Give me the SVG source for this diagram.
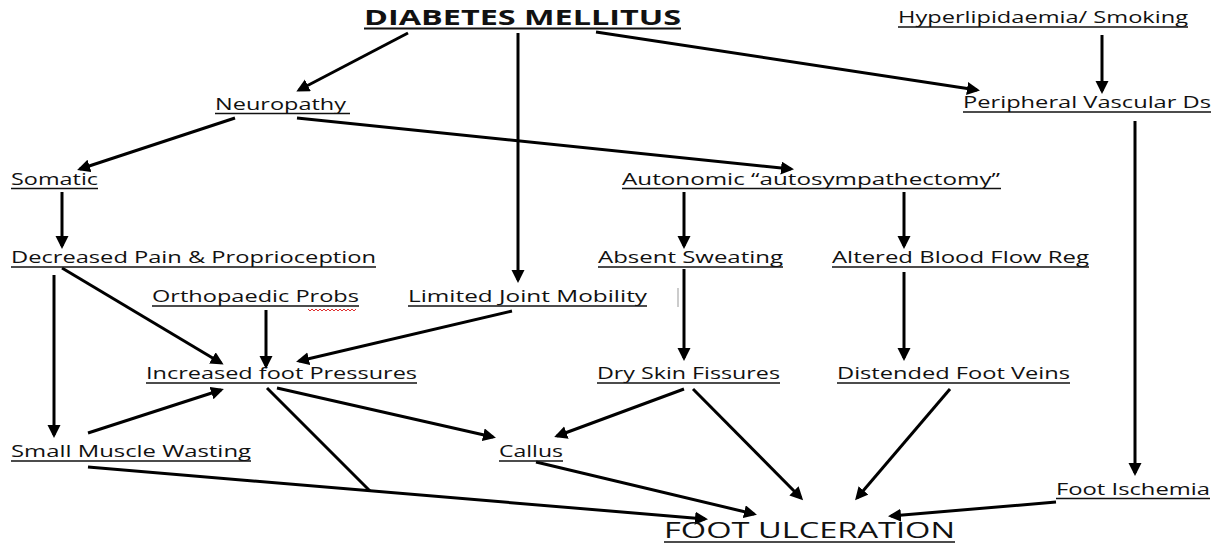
<svg xmlns="http://www.w3.org/2000/svg" width="1221" height="546" viewBox="0 0 1221 546">
<style>
.t{font-family:"Open Sans","Liberation Sans",Arial,sans-serif;font-size:16.5px;fill:#111}
.b{font-weight:bold;font-size:21px}
.big{font-size:21px}
.u{stroke:#111;stroke-width:1.3}
.c line{stroke:#000;stroke-width:3}
.c .a{marker-end:url(#ah)}
</style>
<defs>
<marker id="ah" markerUnits="userSpaceOnUse" markerWidth="16" markerHeight="14" refX="10" refY="6.5" orient="auto">
<path d="M0,0 L13,6.5 L0,13 z" fill="#000"/>
</marker>
</defs>
<rect width="1221" height="546" fill="#fff"/>
<g id="connectors" class="c">
<line class="a" x1="408" y1="33" x2="299" y2="90"/>
<line class="a" x1="518" y1="33" x2="518" y2="280"/>
<line class="a" x1="596" y1="32" x2="977" y2="90"/>
<line class="a" x1="1102" y1="35" x2="1102" y2="91"/>
<line class="a" x1="235" y1="118" x2="80" y2="169"/>
<line class="a" x1="297" y1="118" x2="791" y2="169"/>
<line class="a" x1="1135" y1="121" x2="1135" y2="473"/>
<line class="a" x1="62" y1="192" x2="62" y2="246"/>
<line class="a" x1="684" y1="192" x2="684" y2="246"/>
<line class="a" x1="904" y1="192" x2="904" y2="246"/>
<line class="a" x1="54" y1="275" x2="54" y2="435"/>
<line class="a" x1="62" y1="268" x2="221" y2="363"/>
<line class="a" x1="266" y1="310" x2="266" y2="366"/>
<line class="a" x1="512" y1="311" x2="299" y2="361"/>
<line class="a" x1="684" y1="269" x2="684" y2="358"/>
<line class="a" x1="904" y1="272" x2="904" y2="358"/>
<line class="a" x1="88" y1="433" x2="221" y2="390"/>
<line class="a" x1="277" y1="388" x2="493" y2="437"/>
<line class="a" x1="684" y1="389" x2="557" y2="436"/>
<line class="a" x1="693" y1="389" x2="801" y2="498"/>
<line class="a" x1="950" y1="389" x2="857" y2="498"/>
<line class="a" x1="88" y1="467" x2="705" y2="519"/>
<line x1="267" y1="388" x2="370" y2="491"/>
<line class="a" x1="536" y1="462" x2="754" y2="514"/>
<line class="a" x1="1056" y1="502" x2="891" y2="516"/>
<line x1="678" y1="288" x2="678" y2="307" style="stroke:#999;stroke-width:1"/>
</g>
<g id="diabetes"><text class="t b" x="364" y="25" textLength="317" lengthAdjust="spacingAndGlyphs">DIABETES MELLITUS</text><line class="u" x1="364" y1="28.5" x2="681" y2="28.5" style="stroke-width:2"/></g>
<g id="hyperlipidaemia"><text class="t" x="898" y="23" textLength="290" lengthAdjust="spacingAndGlyphs">Hyperlipidaemia/ Smoking</text><line class="u" x1="898" y1="27" x2="1188" y2="27"/></g>
<g id="neuropathy"><text class="t" x="215" y="110" textLength="131" lengthAdjust="spacingAndGlyphs">Neuropathy</text><line class="u" x1="215" y1="113.5" x2="350" y2="113.5"/></g>
<g id="pvd"><text class="t" x="963" y="108" textLength="248" lengthAdjust="spacingAndGlyphs">Peripheral Vascular Ds</text><line class="u" x1="963" y1="112" x2="1211" y2="112"/></g>
<g id="somatic"><text class="t" x="11" y="185" textLength="87" lengthAdjust="spacingAndGlyphs">Somatic</text><line class="u" x1="11" y1="188.5" x2="98" y2="188.5"/></g>
<g id="autonomic"><text class="t" x="622" y="185" textLength="378" lengthAdjust="spacingAndGlyphs">Autonomic “autosympathectomy”</text><line class="u" x1="622" y1="188.5" x2="1001" y2="188.5"/></g>
<g id="decreased"><text class="t" x="11" y="263" textLength="365" lengthAdjust="spacingAndGlyphs">Decreased Pain &amp; Proprioception</text><line class="u" x1="11" y1="267" x2="376" y2="267"/></g>
<g id="absent"><text class="t" x="598" y="263" textLength="185" lengthAdjust="spacingAndGlyphs">Absent Sweating</text><line class="u" x1="598" y1="267" x2="783" y2="267"/></g>
<g id="altered"><text class="t" x="832" y="263" textLength="257" lengthAdjust="spacingAndGlyphs">Altered Blood Flow Reg</text><line class="u" x1="832" y1="267" x2="1089" y2="267"/></g>
<g id="ortho"><text class="t" x="152" y="302" textLength="207" lengthAdjust="spacingAndGlyphs">Orthopaedic Probs</text><line class="u" x1="152" y1="306" x2="359" y2="306"/><path d="M308,309 l2,2 l2,-2 l2,2 l2,-2 l2,2 l2,-2 l2,2 l2,-2 l2,2 l2,-2 l2,2 l2,-2 l2,2 l2,-2 l2,2 l2,-2 l2,2 l2,-2 l2,2 l2,-2 l2,2 l2,-2 l2,2 l2,-2" fill="none" stroke="#e03030" stroke-width="1"/></g>
<g id="limited"><text class="t" x="408" y="302" textLength="239" lengthAdjust="spacingAndGlyphs">Limited Joint Mobility</text><line class="u" x1="408" y1="306" x2="647" y2="306"/></g>
<g id="increased"><text class="t" x="146" y="379" textLength="271" lengthAdjust="spacingAndGlyphs">Increased foot Pressures</text><line class="u" x1="146" y1="383" x2="417" y2="383"/></g>
<g id="dryskin"><text class="t" x="597" y="379" textLength="183" lengthAdjust="spacingAndGlyphs">Dry Skin Fissures</text><line class="u" x1="597" y1="383" x2="780" y2="383"/></g>
<g id="distended"><text class="t" x="837" y="379" textLength="233" lengthAdjust="spacingAndGlyphs">Distended Foot Veins</text><line class="u" x1="837" y1="383" x2="1070" y2="383"/></g>
<g id="smallmuscle"><text class="t" x="11" y="457" textLength="240" lengthAdjust="spacingAndGlyphs">Small Muscle Wasting</text><line class="u" x1="11" y1="461" x2="251" y2="461"/></g>
<g id="callus"><text class="t" x="499" y="457" textLength="64" lengthAdjust="spacingAndGlyphs">Callus</text><line class="u" x1="499" y1="461" x2="563" y2="461"/></g>
<g id="ischemia"><text class="t" x="1056" y="495" textLength="154" lengthAdjust="spacingAndGlyphs">Foot Ischemia</text><line class="u" x1="1056" y1="498.5" x2="1210" y2="498.5"/></g>
<g id="ulceration"><text class="t big" x="664" y="538" textLength="291" lengthAdjust="spacingAndGlyphs">FOOT ULCERATION</text><line class="u" x1="664" y1="542" x2="955" y2="542" style="stroke-width:1.6"/></g>
</svg>
